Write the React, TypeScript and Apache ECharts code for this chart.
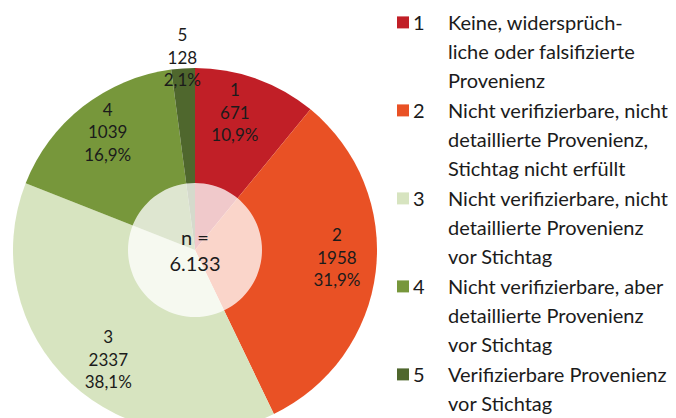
import React, { useEffect, useRef } from "react";
import * as echarts from "echarts";

const categories = ["1", "2", "3", "4", "5"];
const values = [671, 1958, 2337, 1039, 128];
const colors = ["#C11F27", "#E95125", "#D7E4C0", "#77973B", "#4F672D"];
const legendLines = [
  ["Keine, widersprüch-", "liche oder falsifizierte", "Provenienz"],
  ["Nicht verifizierbare, nicht", "detaillierte Provenienz,", "Stichtag nicht erfüllt"],
  ["Nicht verifizierbare, nicht", "detaillierte Provenienz", "vor Stichtag"],
  ["Nicht verifizierbare, aber", "detaillierte Provenienz", "vor Stichtag"],
  ["Verifizierbare Provenienz", "vor Stichtag"],
];
const totalPrefix = "n =";

const FONT = "Lato, 'Noto Sans', sans-serif";
const TEXT = "#1b1b1b";

function fmtPct(p: number) {
  return p.toFixed(1).replace(".", ",") + "%";
}

export default function App() {
  const ref = useRef<HTMLDivElement>(null);
  useEffect(() => {
    if (!ref.current) return;
    const chart = echarts.init(ref.current, undefined, { renderer: "svg" });
    const total = values.reduce((a, b) => a + b, 0);
    const totalStr = total.toLocaleString("de-DE");
    const data = categories.map((c, i) => ({ name: c, value: values[i], itemStyle: { color: colors[i] } }));
    const LH = 28.8;
    const rich: any = {
      gap: { width: 4 },
      num: { width: 35, fontSize: 20, fontFamily: FONT, color: TEXT, lineHeight: LH },
      pad: { width: 51, lineHeight: LH },
      txt: { fontSize: 20, fontFamily: FONT, color: TEXT, lineHeight: LH },
    };
    colors.forEach((c, i) => {
      rich["sq" + i] = { width: 12, height: 12, backgroundColor: c };
    });
    const center = [195, 250];
    const nudges: Record<number, [number, number]> = { 0: [-9, -1], 1: [-2, -10], 2: [12, 3], 3: [2, -4] };
    const option: any = {
      animation: false,
      textStyle: { fontFamily: FONT },
      legend: {
        orient: "vertical",
        left: 387,
        top: 3,
        itemWidth: 0,
        itemHeight: 0,
        itemGap: 1.6,
        selectedMode: false,
        data: categories,
        formatter: (name: string) => {
          const i = categories.indexOf(name);
          const lines = legendLines[i];
          return lines
            .map((l, k) =>
              k === 0 ? `{sq${i}|}{gap|}{num|${name}}{txt|${l}}` : `{pad|}{txt|${l}}`
            )
            .join("\n");
        },
        textStyle: { rich, fontFamily: FONT, fontSize: 20, lineHeight: LH, color: TEXT },
      },
      series: [
        {
          type: "pie",
          center,
          radius: [0, 182],
          startAngle: 90,
          silent: true,
          label: { show: false },
          labelLine: { show: false },
          data,
        },
        {
          type: "pie",
          center,
          radius: [0, 67],
          silent: true,
          itemStyle: { color: "rgba(255,255,255,0.76)" },
          label: {
            show: true,
            position: "center",
            formatter: `${totalPrefix}\n${totalStr}`,
            fontSize: 20,
            lineHeight: 26,
            color: TEXT,
            fontFamily: FONT,
          },
          labelLine: { show: false },
          data: [{ name: "n", value: total }],
        },
        {
          type: "pie",
          center,
          radius: [102, 182],
          startAngle: 90,
          silent: true,
          itemStyle: { color: "rgba(0,0,0,0)" },
          label: {
            show: true,
            position: "inside",
            fontSize: 17,
            lineHeight: 22.5,
            color: TEXT,
            fontFamily: FONT,
            formatter: (p: any) => `${p.name}\n${p.value}\n${fmtPct(p.percent)}`,
          },
          labelLayout: (p: any) => {
            const n = nudges[p.dataIndex];
            return n ? { dx: n[0], dy: n[1] } : {};
          },
          labelLine: { show: false },
          data: data.map((d, i) => ({
            name: d.name,
            value: d.value,
            label: { show: i !== 4 },
          })),
        },
        {
          type: "pie",
          center,
          radius: [182, 198],
          startAngle: 90,
          silent: true,
          itemStyle: { color: "rgba(0,0,0,0)" },
          label: {
            show: true,
            position: "inside",
            fontSize: 17,
            lineHeight: 22.5,
            color: TEXT,
            fontFamily: FONT,
            formatter: (p: any) => `${p.name}\n${p.value}\n${fmtPct(p.percent)}`,
          },
          labelLine: { show: false },
          data: data.map((d, i) => ({
            name: d.name,
            value: d.value,
            label: { show: i === 4 },
          })),
        },
      ],
    };
    chart.setOption(option);
    return () => chart.dispose();
  }, []);
  return (
    <div
      ref={ref}
      style={{ position: "fixed", left: 0, top: 0, width: 676, height: 418, background: "#fff" }}
    />
  );
}
